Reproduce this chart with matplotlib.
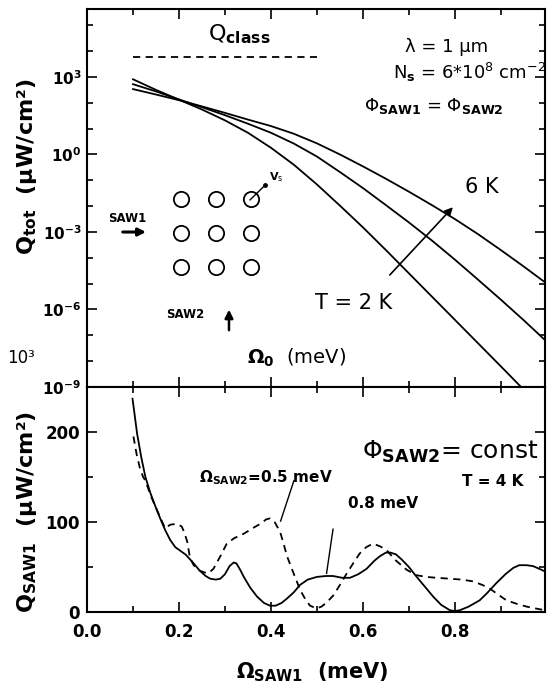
import numpy as np
import matplotlib
matplotlib.use("Agg")
import matplotlib.pyplot as plt
from matplotlib.ticker import MultipleLocator, FixedLocator, FixedFormatter, NullFormatter

plt.rcParams['font.family'] = ['DejaVu Sans']
plt.rcParams['mathtext.fontset'] = 'dejavusans'

# ---- top panel: log10 of Q_tot (uW/cm^2) against Omega_0 (meV)
om_2k = [0.10, 0.15, 0.20, 0.25, 0.30, 0.35, 0.40, 0.45, 0.50, 0.55, 0.60, 0.65, 0.70, 0.75, 0.80, 0.85, 0.90, 0.944]
lq_2k = [2.91, 2.50, 2.12, 1.74, 1.32, 0.84, 0.26, -0.40, -1.16, -1.98, -2.82, -3.70, -4.60, -5.50, -6.40, -7.30, -8.20, -9.00]
om_4k = [0.10, 0.15, 0.20, 0.25, 0.30, 0.35, 0.40, 0.45, 0.50, 0.55, 0.60, 0.65, 0.70, 0.75, 0.80, 0.85, 0.90, 0.95, 1.0]
lq_4k = [2.72, 2.44, 2.13, 1.83, 1.52, 1.19, 0.84, 0.42, -0.08, -0.68, -1.30, -1.96, -2.63, -3.33, -4.07, -4.84, -5.62, -6.42, -7.25]
om_6k = [0.10, 0.15, 0.20, 0.25, 0.30, 0.35, 0.40, 0.45, 0.50, 0.55, 0.60, 0.65, 0.70, 0.75, 0.80, 0.85, 0.90, 0.95, 1.0]
lq_6k = [2.53, 2.32, 2.10, 1.86, 1.61, 1.35, 1.10, 0.80, 0.43, 0.00, -0.46, -0.94, -1.44, -1.96, -2.50, -3.08, -3.70, -4.34, -5.00]
qclass_x = [0.10, 0.50]
qclass_lq = [3.76, 3.76]

# ---- bottom panel: Q_SAW1 (uW/cm^2) against Omega_SAW1 (meV)
om_05 = [0.101, 0.108, 0.115, 0.122, 0.127, 0.138, 0.149, 0.160, 0.170, 0.181, 0.195, 0.206, 0.212,
         0.218, 0.224, 0.232, 0.245, 0.255, 0.264, 0.275, 0.290, 0.304, 0.320, 0.341, 0.360, 0.377,
         0.390, 0.398, 0.408, 0.420, 0.428, 0.435, 0.450, 0.464, 0.475, 0.485, 0.499, 0.510, 0.522,
         0.535, 0.550, 0.565, 0.580, 0.593, 0.607, 0.622, 0.637, 0.651, 0.670, 0.695, 0.715, 0.738,
         0.760, 0.789, 0.815, 0.840, 0.860, 0.876, 0.895, 0.912, 0.935, 0.956, 0.975, 0.995]
q_05 = [195, 175, 160, 150, 146, 130, 117, 104, 93, 97, 98, 95, 88,
        78, 60, 52, 46, 44, 43, 48, 62, 76, 82, 87, 93, 98,
        103, 104, 100, 89, 75, 62, 42, 24, 14, 7, 4, 6, 11,
        18, 30, 43, 55, 65, 72, 76, 73, 69, 58, 47, 41, 39,
        38, 37, 36, 34, 30, 26, 19, 13, 9, 6, 4, 2]
om_08 = [0.099, 0.109, 0.118, 0.127, 0.138, 0.149, 0.160, 0.170, 0.181, 0.192, 0.203, 0.214, 0.225,
         0.232, 0.245, 0.258, 0.268, 0.280, 0.290, 0.300, 0.310, 0.319, 0.325, 0.333, 0.341, 0.355,
         0.370, 0.385, 0.398, 0.410, 0.423, 0.435, 0.450, 0.463, 0.480, 0.500, 0.520, 0.535, 0.555,
         0.572, 0.590, 0.608, 0.625, 0.637, 0.650, 0.660, 0.672, 0.685, 0.700, 0.717, 0.735, 0.753,
         0.770, 0.789, 0.800, 0.811, 0.830, 0.854, 0.870, 0.890, 0.910, 0.927, 0.940, 0.956, 0.970,
         0.988, 0.996]
q_08 = [237, 198, 172, 150, 132, 117, 103, 91, 80, 72, 68, 64, 58,
        54, 46, 40, 37, 36, 37, 42, 51, 55, 54, 47, 39, 27,
        17, 10, 7, 7, 10, 15, 22, 30, 36, 39, 40, 40, 38,
        38, 42, 48, 57, 62, 66, 66, 64, 58, 50, 39, 28, 17,
        8, 2, 1, 2, 6, 13, 21, 32, 42, 49, 52, 52, 51,
        47, 45]

W, H = 558, 688
fig = plt.figure(figsize=(W / 100, H / 100), dpi=100)
L, R = 87, 545
ax1 = fig.add_axes([L / W, 1 - 387 / H, (R - L) / W, 378 / H])
ax2 = fig.add_axes([L / W, 1 - 612 / H, (R - L) / W, 225 / H])

lw = 1.3
dash = (4, 3)
for om, lq in [(om_2k, lq_2k), (om_4k, lq_4k), (om_6k, lq_6k)]:
    ax1.plot(om, 10.0 ** np.array(lq), color='k', lw=lw)
ax1.plot(qclass_x, 10.0 ** np.array(qclass_lq), color='k', lw=lw, dashes=dash)
ax1.set_yscale('log')
ax1.set_xlim(0, 0.996)
ax1.set_ylim(1e-9, 10 ** 5.63)

ax2.plot(om_08, q_08, color='k', lw=lw)
ax2.plot(om_05, q_05, color='k', lw=lw, dashes=dash)
ax2.set_ylim(0, 250)

# ticks
for ax in (ax1, ax2):
    ax.xaxis.set_major_locator(MultipleLocator(0.2))
    ax.xaxis.set_minor_locator(MultipleLocator(0.1))
    ax.tick_params(which='both', direction='in', top=True, right=True, width=1.2)
    ax.tick_params(which='major', length=7)
    ax.tick_params(which='minor', length=4)
    for s in ax.spines.values():
        s.set_linewidth(1.5)

ax1.yaxis.set_major_locator(FixedLocator([1e-9, 1e-6, 1e-3, 1e0, 1e3]))
ax1.yaxis.set_major_formatter(FixedFormatter([r'$\mathbf{10^{-9}}$', r'$\mathbf{10^{-6}}$',
                                              r'$\mathbf{10^{-3}}$', r'$\mathbf{10^{0}}$',
                                              r'$\mathbf{10^{3}}$']))
ax1.yaxis.set_minor_locator(FixedLocator([10.0 ** k for k in range(-9, 6)]))
ax1.yaxis.set_minor_formatter(NullFormatter())
ax1.tick_params(axis='x', labelbottom=False)
ax1.tick_params(axis='y', labelsize=11, pad=4)

ax2.yaxis.set_major_locator(MultipleLocator(100))
ax2.yaxis.set_minor_locator(MultipleLocator(50))
ax2.tick_params(axis='y', labelsize=12, pad=5)
ax2.tick_params(axis='x', labelsize=12, pad=8)
ax2.set_yticks([0, 100, 200])
ax2.set_yticklabels(['0', '100', '200'], fontweight='bold')
ax2.set_xticks([0.0, 0.2, 0.4, 0.6, 0.8, 1.0])
ax2.set_xticklabels(['0.0', '0.2', '0.4', '0.6', '0.8', '1.0'], fontweight='bold')
ax2.set_xlim(0, 0.996)
ax2.set_ylim(0, 250)

# axis labels
fig.text(27 / W, 1 - 167 / H, r'$\mathbf{Q_{tot}}$  (μW/cm²)', rotation=90,
         ha='center', va='center', fontsize=16, fontweight='bold')
fig.text(27 / W, 1 - 512 / H, r'$\mathbf{Q_{SAW1}}$  (μW/cm²)', rotation=90,
         ha='center', va='center', fontsize=16, fontweight='bold')
fig.text(312 / W, 1 - 672 / H, r'$\mathbf{\Omega_{SAW1}}$  (meV)',
         ha='center', va='center', fontsize=15, fontweight='bold')
fig.text(21 / W, 1 - 358 / H, '10³', ha='center', va='center', fontsize=12)

# top panel annotations
t1 = ax1.transAxes
ax1.text(0.264, 0.9325, r'Q$_{\mathbf{class}}$', transform=t1, ha='left', va='center', fontsize=16)
ax1.text(0.784, 0.899, 'λ = 1 μm', transform=t1, ha='center', va='center', fontsize=13)
ax1.text(0.835, 0.833, r'N$_{\mathbf{s}}$ = 6*10$^{8}$ cm$^{-2}$', transform=t1,
         ha='center', va='center', fontsize=13)
ax1.text(0.758, 0.743, r'$\Phi_{\mathbf{SAW1}}$ = $\Phi_{\mathbf{SAW2}}$', transform=t1,
         ha='center', va='center', fontsize=13)
ax1.text(0.862, 0.529, '6 K', transform=t1, ha='center', va='center', fontsize=15)
ax1.text(0.583, 0.222, 'T = 2 K', transform=t1, ha='center', va='center', fontsize=15)
ax1.text(0.349, 0.077, r'$\mathbf{\Omega}_{\mathbf{0}}$  (meV)', transform=t1,
         ha='left', va='center', fontsize=14)
ax1.annotate('', xy=(0.803, 0.481), xytext=(0.657, 0.291), xycoords=t1, textcoords=t1,
             arrowprops=dict(arrowstyle='-|>', lw=1.2, color='k', mutation_scale=12))

# lattice sketch
gx, gy = np.meshgrid([0.205, 0.282, 0.358], [0.497, 0.407, 0.317])
ax1.plot(gx.ravel(), gy.ravel(), 'o', mfc='none', mec='k', ms=11, mew=1.3, transform=t1)
ax1.plot([0.356, 0.389], [0.495, 0.534], color='k', lw=1.0, transform=t1)
ax1.plot([0.389], [0.534], 'o', color='k', ms=2.5, transform=t1)
ax1.text(0.398, 0.556, r'V$_{\rm s}$', transform=t1, ha='left', va='center', fontsize=8,
         fontweight='bold')
ax1.text(0.088, 0.447, 'SAW1', transform=t1, ha='center', va='center', fontsize=8.5,
         fontweight='bold')
ax1.annotate('', xy=(0.135, 0.410), xytext=(0.072, 0.410), xycoords=t1, textcoords=t1,
             arrowprops=dict(arrowstyle='-|>', lw=2.2, color='k', mutation_scale=11))
ax1.text(0.214, 0.193, 'SAW2', transform=t1, ha='center', va='center', fontsize=8.5,
         fontweight='bold')
ax1.annotate('', xy=(0.310, 0.212), xytext=(0.310, 0.143), xycoords=t1, textcoords=t1,
             arrowprops=dict(arrowstyle='-|>', lw=1.8, color='k', mutation_scale=12))

# bottom panel annotations
t2 = ax2.transAxes
ax2.text(0.985, 0.711, r'$\Phi_{\mathbf{SAW2}}$= const', transform=t2,
         ha='right', va='center', fontsize=18)
ax2.text(0.952, 0.578, 'T = 4 K', transform=t2, ha='right', va='center', fontsize=11,
         fontweight='bold')
ax2.text(0.243, 149, r'$\mathbf{\Omega_{SAW2}}$=0.5 meV', ha='left', va='center',
         fontsize=11, fontweight='bold')
ax2.text(0.567, 120, '0.8 meV', ha='left', va='center', fontsize=11, fontweight='bold')
ax2.plot([0.450, 0.421], [146, 101], color='k', lw=1.0)
ax2.plot([0.535, 0.521], [92, 43], color='k', lw=1.0)

fig.savefig('out.png', dpi=100)
